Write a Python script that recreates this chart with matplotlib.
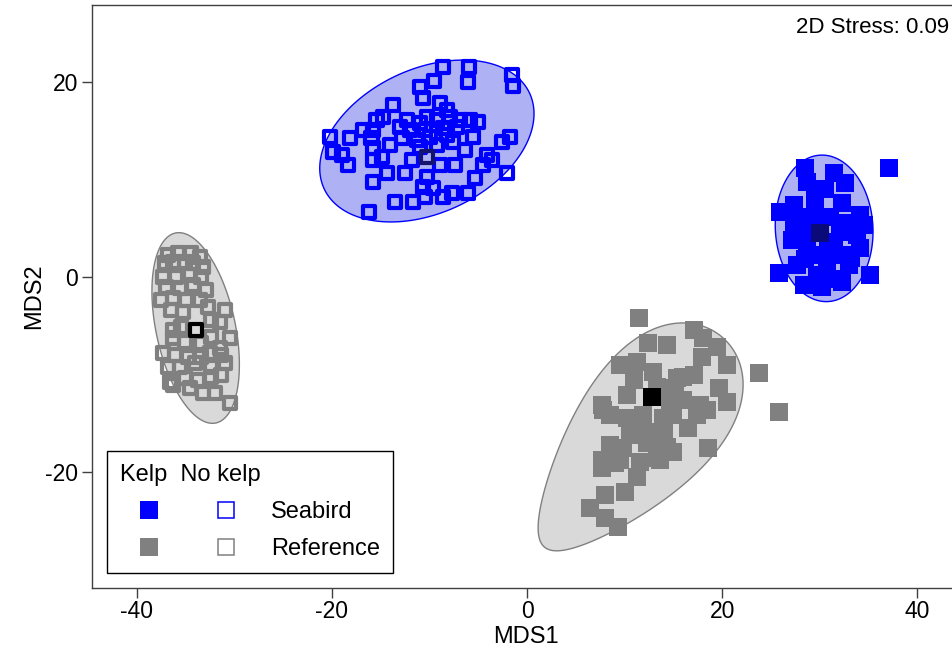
import numpy as np
import matplotlib.pyplot as plt
from matplotlib.lines import Line2D

plt.rcParams["font.family"] = ["Liberation Sans", "DejaVu Sans"]
plt.rcParams["axes.unicode_minus"] = False

BLUE = "#0000ff"
GREY = "#808080"

# NMDS scores (MDS1, MDS2)
SEABIRD_NOKELP_X = [-8.58, -5.92, -9.54, -6.02, -1.57, -1.41, -10.97, -10.64, -13.71, -8.92,
                    -8.24, -15.42, -14.74, -12.34, -10.97, -10.29, -9.26, -7.90, -6.87, -5.85,
                    -4.99, -16.79, -15.76, -13.03, -12.0, -10.46, -8.58, -7.21, -20.21, -18.15,
                    -15.93, -12.85, -11.31, -9.95, -8.24, -5.51, -1.74, -2.59, -19.87, -19.0,
                    -18.33, -15.76, -14.05, -14.90, -10.97, -9.26, -7.56, -6.36, -15.76, -11.83,
                    -8.92, -7.38, -4.13, -3.62, -4.48, -2.08, -14.39, -12.51, -10.29, -15.76,
                    -5.33, -10.64, -9.61, -13.54, -11.66, -10.46, -8.58, -7.72, -6.02, -16.17]
SEABIRD_NOKELP_Y = [21.57, 21.57, 20.13, 19.97, 20.72, 19.59, 19.52, 18.33, 17.64, 17.82,
                    17.13, 16.10, 16.44, 16.10, 15.76, 16.44, 16.10, 16.44, 16.10, 16.10,
                    15.93, 15.08, 15.08, 15.42, 15.08, 15.08, 15.25, 15.42, 14.39, 14.23,
                    14.23, 14.23, 14.05, 14.39, 14.56, 14.33, 14.33, 13.88, 12.85, 12.51,
                    11.49, 13.20, 13.54, 12.34, 13.36, 13.54, 13.88, 13.03, 12.00, 12.00,
                    11.49, 11.49, 12.51, 12.00, 11.49, 10.64, 10.64, 10.64, 10.29, 9.77,
                    10.12, 9.26, 9.10, 7.72, 7.72, 8.24, 8.24, 8.58, 8.58, 6.70]

SEABIRD_KELP_X = [28.51, 31.42, 37.06, 32.62, 28.69, 27.31, 25.95, 29.54, 32.28, 34.15,
                  34.49, 27.31, 28.34, 31.08, 32.10, 27.15, 28.69, 31.42, 33.82, 34.15,
                  32.44, 27.66, 29.36, 30.74, 32.95, 25.77, 35.18, 28.34, 30.23, 32.28, 29.71,
                  30.5, 29.2, 32.8, 30.8, 29.5, 31.2, 33.2, 28.5]
SEABIRD_KELP_Y = [11.15, 10.64, 11.15, 9.61, 9.77, 7.38, 6.70, 7.90, 7.56, 6.36,
                  5.33, 5.67, 4.99, 6.18, 4.65, 3.79, 3.28, 3.62, 4.31, 2.94,
                  2.26, 1.23, 2.26, 1.23, 1.23, 0.38, 0.21, -0.82, -0.99, -0.48, 0.21,
                  9.0, 6.2, 5.5, 2.8, 5.0, -0.2, 2.0, 1.8]

REF_NOKELP_X = [-36.79, -35.76, -34.39, -33.54, -37.13, -36.28, -35.08, -34.23, -33.20, -37.30,
                -35.93, -34.56, -33.36, -36.95, -35.59, -34.23, -32.85, -37.47, -36.28, -34.90,
                -33.54, -36.44, -35.25, -32.69, -30.97, -36.28, -35.42, -32.34, -31.49, -30.46,
                -32.34, -35.08, -36.28, -33.36, -31.49, -37.30, -36.10, -34.74, -33.36, -32.51,
                -31.31, -36.79, -35.59, -34.05, -32.34, -30.97, -36.62, -35.08, -33.71, -32.34,
                -31.31, -36.28, -34.56, -33.20, -32.00, -30.46]
REF_NOKELP_Y = [2.26, 2.43, 2.43, 2.08, 1.41, 1.57, 1.57, 1.41, 1.06, 0.03,
                0.03, 0.21, 0.03, -0.99, -1.16, -0.82, -1.33, -2.36, -2.18, -2.36,
                -2.36, -3.38, -3.56, -3.05, -3.38, -5.44, -5.10, -4.41, -4.58, -6.29,
                -6.12, -6.64, -6.29, -6.80, -7.31, -7.83, -8.00, -8.17, -8.17, -7.83,
                -8.00, -9.20, -9.20, -8.85, -9.20, -8.85, -10.74, -10.39, -10.56, -10.23,
                -10.05, -11.08, -11.42, -11.93, -11.93, -12.95]

REF_KELP_X = [11.52, 17.06, 18.08, 19.46, 12.44, 14.33, 17.92, 20.48, 23.72, 9.54,
              11.25, 12.95, 15.35, 17.06, 19.62, 20.48, 7.66, 10.23, 16.03, 17.74,
              17.41, 25.77, 8.51, 10.23, 11.93, 13.98, 15.00, 11.25, 12.62, 8.51,
              9.88, 12.95, 15.00, 18.59, 7.66, 9.03, 11.59, 13.30, 7.66, 11.25,
              10.05, 8.00, 6.46, 8.00, 9.36, 16.03, 15.18, 18.43, 14.67, 14.33,
              9.54, 13.64, 7.83, 12.28, 13.3, 11.0, 14.0, 10.5, 16.5]
REF_KELP_Y = [-4.24, -5.44, -6.29, -7.15, -6.80, -6.97, -8.17, -9.03, -9.88, -9.03,
              -8.69, -9.71, -10.39, -10.05, -11.42, -12.79, -13.13, -12.10, -12.62, -13.13,
              -14.15, -13.82, -14.15, -14.49, -14.15, -14.49, -14.15, -15.52, -15.87, -17.23,
              -17.57, -16.89, -17.92, -17.57, -18.77, -19.11, -18.94, -18.59, -19.62, -20.48,
              -22.02, -22.36, -23.72, -24.75, -25.61, -10.23, -11.42, -13.64, -12.95, -17.41,
              -18.77, -18.77, -13.64, -17.06, -11.3, -10.6, -16.0, -16.2, -15.5]

# group centroids: seabird/no kelp, seabird/kelp, reference/no kelp, reference/kelp
CENT_X = [-10.29, 30.05, -33.88, 12.79]
CENT_Y = [12.34, 4.48, -5.44, -12.28]

# dispersion ellipses (same group order): centre, semi-axes, angle (deg), egg skew
ELL_CX = [-10.26, 30.44, -33.95, 10.87]
ELL_CY = [13.95, 4.99, -5.23, -16.92]
ELL_A = [11.61, 7.52, 9.96, 14.1]
ELL_B = [7.39, 5.0, 4.06, 6.77]
ELL_ANG = [25, 93, 102, 49.9]
ELL_SKEW = [0, 0, 0, 0.35]

STRESS = 0.09


def egg(cx, cy, a, b, ang, k, n=400):
    t = np.linspace(0, 2 * np.pi, n)
    u = a * np.cos(t)
    v = b * np.sin(t) * (1 + k * np.cos(t))
    th = np.deg2rad(ang)
    return cx + u * np.cos(th) - v * np.sin(th), cy + u * np.sin(th) + v * np.cos(th)


fig = plt.figure(figsize=(9.52, 6.53), dpi=100)
ax = fig.add_axes([92 / 952, 65 / 653, 868 / 952, 583 / 653])

fills = ["#aeb2f5", "#aeb2f5", "#d9d9d9", "#d9d9d9"]
edges = [BLUE, BLUE, GREY, GREY]
for i in range(4):
    ex, ey = egg(ELL_CX[i], ELL_CY[i], ELL_A[i], ELL_B[i], ELL_ANG[i], ELL_SKEW[i])
    ax.fill(ex, ey, facecolor=fills[i], edgecolor=edges[i], lw=1.0, zorder=1)

ax.scatter(SEABIRD_NOKELP_X, SEABIRD_NOKELP_Y, marker="s", s=76, facecolors="none",
           edgecolors=BLUE, linewidths=3.0, zorder=2)
ax.scatter(REF_NOKELP_X, REF_NOKELP_Y, marker="s", s=76, facecolors="none",
           edgecolors=GREY, linewidths=3.0, zorder=2)
ax.scatter(SEABIRD_KELP_X, SEABIRD_KELP_Y, marker="s", s=155, color=BLUE,
           linewidths=0, zorder=2)
ax.scatter(REF_KELP_X, REF_KELP_Y, marker="s", s=155, color=GREY,
           linewidths=0, zorder=2)

# centroids
ax.scatter(CENT_X[0], CENT_Y[0], marker="s", s=76, facecolors="none",
           edgecolors="#14146e", linewidths=3.0, zorder=3)
ax.scatter(CENT_X[1], CENT_Y[1], marker="s", s=155, color="#0a0a78", linewidths=0, zorder=3)
ax.scatter(CENT_X[2], CENT_Y[2], marker="s", s=76, facecolors="none",
           edgecolors="black", linewidths=3.0, zorder=3)
ax.scatter(CENT_X[3], CENT_Y[3], marker="s", s=155, color="black", linewidths=0, zorder=3)

ax.set_xlim(-44.57, 44.36)
ax.set_ylim(-31.9, 27.9)
ax.set_xticks([-40, -20, 0, 20, 40])
ax.set_yticks([-20, 0, 20])
ax.set_xlabel("MDS1", fontsize=17, labelpad=2)
ax.set_ylabel("MDS2", fontsize=17, labelpad=0)
ax.tick_params(labelsize=16.5, length=7, width=1, color="#404040")
ax.tick_params(axis="x", pad=2)
ax.tick_params(axis="y", pad=3)
for sp in ax.spines.values():
    sp.set_color("#404040")
    sp.set_linewidth(1.0)

ax.text(0.987, 0.962, f"2D Stress: {STRESS:.2f}", transform=ax.transAxes,
        ha="right", va="center", fontsize=16)

handles = [
    Line2D([], [], ls="none", marker="s", ms=12.3, mfc=BLUE, mec=BLUE, mew=0),
    Line2D([], [], ls="none", marker="s", ms=12.3, mfc=GREY, mec=GREY, mew=0),
    Line2D([], [], ls="none", marker="s", ms=11.5, mfc="white", mec=BLUE, mew=1.1),
    Line2D([], [], ls="none", marker="s", ms=11.5, mfc="white", mec=GREY, mew=1.1),
]
labels = ["", "", "Seabird", "Reference"]
leg = ax.legend(handles, labels, ncol=2, title="Kelp  No kelp", alignment="left",
                loc="lower left", bbox_to_anchor=(0.0174, 0.0257), borderaxespad=0,
                fontsize=17, title_fontsize=17, handlelength=2.45, handletextpad=0.7,
                columnspacing=0.1, labelspacing=0.63, borderpad=0.55,
                fancybox=False, framealpha=1, edgecolor="black")
leg.get_frame().set_linewidth(1.0)
leg.set_zorder(5)

fig.savefig("out.png", dpi=100)
